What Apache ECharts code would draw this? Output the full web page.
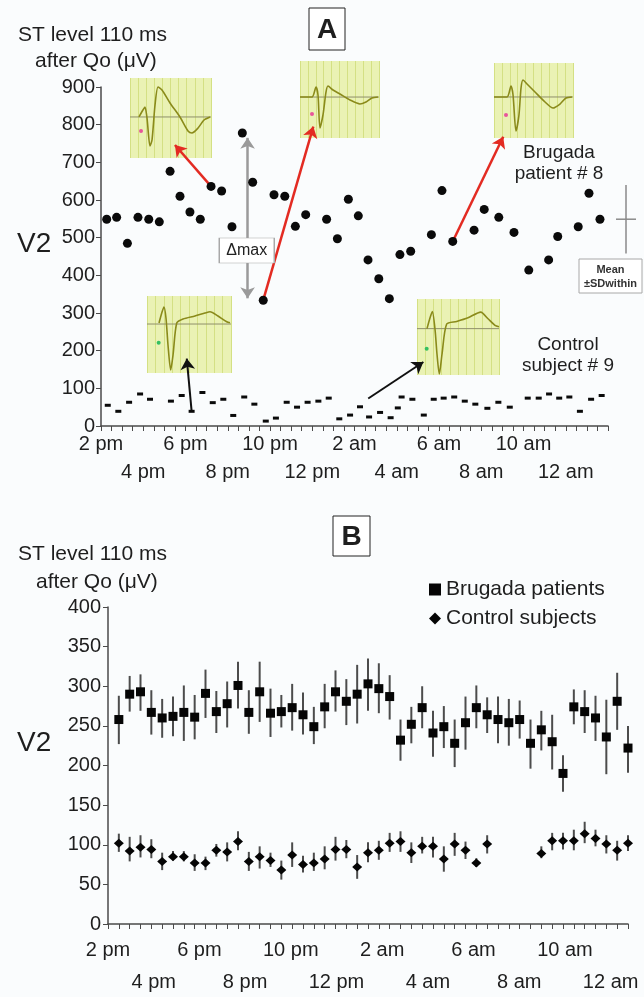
<!DOCTYPE html>
<html>
<head>
<meta charset="utf-8">
<script src="https://cdn.jsdelivr.net/npm/echarts/dist/echarts.min.js"></script>
<style>
html,body{margin:0;padding:0;background:#fafcfd;}
#chart{width:644px;height:997px;}
</style>
</head>
<body>
<div id="chart"></div>
<script>
// ---------- Panel A : Brugada patient #8 (hours after 2 pm, µV) ----------
const aBrugadaHours = [0.27,0.74,1.25,1.75,2.26,2.76,3.27,3.74,4.21,4.70,5.21,5.71,6.20,6.69,7.18,7.68,8.19,8.70,9.20,9.69,10.68,11.19,11.71,12.18,12.64,13.15,13.65,14.15,14.66,15.64,16.14,16.65,17.66,18.14,18.83,19.55,20.25,21.19,21.62,22.59,23.10,23.62];
const aBrugadaValues = [549,554,485,554,549,542,676,610,568,549,636,624,529,778,647,334,614,610,530,561,549,497,602,558,441,391,338,455,464,508,625,490,520,575,554,514,414,441,503,529,618,549];
// ---------- Panel A : Control subject #9 ----------
const aControlHours = [0.32,0.82,1.33,1.85,2.32,3.31,3.82,4.29,4.80,5.29,5.79,6.26,6.78,7.26,7.80,8.28,8.79,9.28,9.78,10.29,10.78,11.28,11.79,12.26,12.69,13.21,13.71,14.05,14.23,14.74,15.28,15.75,16.22,16.72,17.22,17.72,18.29,18.81,19.35,20.20,20.72,21.21,21.69,22.17,22.67,23.20,23.70];
const aControlValues = [55,39,63,85,71,66,81,39,89,62,71,28,77,58,13,21,63,50,63,66,74,19,29,51,24,36,22,48,77,71,29,71,74,77,66,58,47,63,50,74,74,85,74,77,39,71,81];
const sdMean = 549, sdWithin = 91;

// ---------- Panel B : group means ± SD ----------
const bHours = [0.5,1,1.5,2,2.5,3,3.5,4,4.5,5,5.5,6,6.5,7,7.5,8,8.5,9,9.5,10,10.5,11,11.5,12,12.5,13,13.5,14,14.5,15,15.5,16,16.5,17,17.5,18,18.5,19,19.5,20,20.5,21,21.5,22,22.5,23,23.5,24];
const bBrugadaMean = [258,290,293,267,260,262,267,261,291,268,278,301,267,293,266,268,273,264,249,274,293,281,290,303,297,287,232,252,273,241,249,228,254,273,264,258,254,258,228,245,230,190,274,268,260,236,281,222];
const bBrugadaHigh = [288,313,315,295,284,287,301,289,321,294,306,331,295,331,297,289,303,292,274,303,320,309,327,335,329,314,258,274,300,269,275,258,287,301,286,287,284,282,258,269,264,213,296,295,288,283,317,250];
const bBrugadaLow  = [227,268,269,239,235,237,231,233,260,241,248,272,240,255,236,248,244,239,227,247,268,251,253,269,266,258,206,228,247,211,222,198,220,247,241,228,225,234,196,219,195,167,252,241,231,189,245,191];
const bControlMean = [102,92,97,94,79,85,85,77,77,93,91,104,79,85,80,68,87,75,77,82,94,94,72,90,93,102,104,90,98,98,82,101,93,77,101,null,null,null,null,89,105,105,105,114,108,101,93,102];
const bControlHigh = [114,110,112,107,90,92,92,88,85,101,103,117,91,98,90,80,103,86,90,98,110,106,87,103,105,115,117,103,110,110,98,115,104,83,112,null,null,null,null,98,115,115,119,129,119,112,105,112];
const bControlLow  = [91,79,84,83,68,80,79,67,68,85,79,93,67,70,72,56,72,65,67,69,80,83,57,78,81,91,91,77,89,84,66,86,82,72,89,null,null,null,null,83,93,94,93,102,98,89,80,92];

// ---------- tick labels ----------
const hourLabels = ['2 pm','4 pm','6 pm','8 pm','10 pm','12 pm','2 am','4 am','6 am','8 am','10 am','12 am'];

// ---------- ECG thumbnails (local units 0-100) ----------
const inset1X = [11.1,16.0,18.5,21.0,24.7,27.2,30.9,34.6,39.5,49.4,61.7,71.6,76.5,84.0,91.4,98.8];
const inset1Y = [51.3,60,63.8,50,15,22.5,66.3,88.8,85,68.8,51.3,33.8,31.3,37.5,47.5,51.3];
const inset2X = [0,15.2,20.3,22.8,25.3,29.1,32.9,35.4,41.8,50.6,63.3,75.9,83.5,91.1,98.7];
const inset2Y = [53.2,53.2,66.2,55.8,13,29.9,59.7,67.5,62.3,57.1,49.4,44.2,46.8,51.9,53.2];
const inset3X = [0,16.5,21.5,24.1,27.8,31.6,34.2,36.7,41.8,51.9,64.6,74.7,83.5,91.1,98.7];
const inset3Y = [54.7,54.7,69.3,57.3,9.3,30.7,66.7,77.3,72,61.3,48,40,45.3,53.3,54.7];
const inset4X = [14.3,17.9,20.2,22.6,25,28.2,31,35.4,42.9,57.1,69,75,84.5,94.9,98.8];
const inset4Y = [64.9,79.2,85.7,71.4,36.4,3.9,23.4,64.9,70.1,74,77.9,79.6,74,66.6,65.3];
const inset5X = [12.2,15.9,18.7,22,24.4,27.2,30.5,36.2,48.4,62.2,77.7,86.6,95.1,100];
const inset5Y = [61,75.3,83.5,59.7,27.3,1.3,27.3,67.1,70.5,75.3,82.7,74,65.3,63.6];
const insetBaselines = [51.3,53.2,54.7,63.6,61];
const insetDotX = [13.6,15.2,15.2,13.9,11.8];
const insetDotY = [33.8,31.2,30.7,39.4,34.7];

// ---------- build ----------
const FONT = 'Liberation Sans, Arial, Helvetica, sans-serif';
const zip = (xs, ys) => xs.map((x, i) => [x, ys[i]]);
function twoRow(v) {
  const i = Math.round(v / 2);
  if (Math.abs(v - 2 * i) > 1e-6 || i < 0 || i >= hourLabels.length) return '';
  return i % 2 === 0 ? hourLabels[i] : '\n' + hourLabels[i];
}
const axisColor = '#4a4a4a';
const insetGrids = [[130,78,81,80],[300,61,79,77],[494,63,79,75],[147,296,84,77],[417,299,82,76]];
const insetXs = [inset1X, inset2X, inset3X, inset4X, inset5X];
const insetYs = [inset1Y, inset2Y, inset3Y, inset4Y, inset5Y];
const dotColors = ['#e8559a','#e8559a','#e8559a','#35c060','#35c060'];

const grids = [
  {left:101, top:87, width:507, height:339, outerBoundsMode:'none'},
  {left:108, top:607, width:520, height:317, outerBoundsMode:'none'}
];
insetGrids.forEach(g => grids.push({left:g[0], top:g[1], width:g[2], height:g[3], show:true,
  backgroundColor:'#eaf2b4', borderWidth:0, outerBoundsMode:'none'}));
grids.push({left:610, top:87, width:32, height:339, outerBoundsMode:'none'});

const labelStyle = {color:'#1e1e1e', fontSize:20, fontFamily:FONT};
const xAxes = [
  {gridIndex:0, type:'value', min:0, max:24, interval:0.5,
   axisLine:{lineStyle:{color:axisColor, width:1.5}}, axisTick:{length:5, lineStyle:{color:axisColor}},
   splitLine:{show:false},
   axisLabel:Object.assign({}, labelStyle, {margin:4, lineHeight:28, formatter:twoRow, showMinLabel:true, showMaxLabel:true})},
  {gridIndex:1, type:'value', min:0, max:24, interval:0.5,
   axisLine:{lineStyle:{color:axisColor, width:1.5}}, axisTick:{length:5, lineStyle:{color:axisColor}},
   splitLine:{show:false}, axisLabel:{show:false}},
  {gridIndex:1, type:'value', min:0, max:22.76, interval:2, position:'bottom',
   axisLine:{show:false}, axisTick:{show:false}, splitLine:{show:false},
   axisLabel:Object.assign({}, labelStyle, {margin:10, lineHeight:32, formatter:twoRow, showMinLabel:true, showMaxLabel:true})}
];
const yAxes = [
  {gridIndex:0, type:'value', min:0, max:900, interval:100,
   axisLine:{show:true, lineStyle:{color:axisColor, width:1.5}}, axisTick:{show:true, length:5, lineStyle:{color:axisColor}},
   splitLine:{show:false}, axisLabel:Object.assign({}, labelStyle, {margin:6})},
  {gridIndex:1, type:'value', min:0, max:400, interval:50,
   axisLine:{show:true, lineStyle:{color:axisColor, width:1.5}}, axisTick:{show:true, length:5, lineStyle:{color:axisColor}},
   splitLine:{show:false}, axisLabel:Object.assign({}, labelStyle, {margin:7})}
];
insetGrids.forEach((g, i) => {
  xAxes.push({gridIndex:2+i, type:'value', min:0, max:100, interval:10, axisLine:{show:false}, axisTick:{show:false},
    axisLabel:{show:false}, splitLine:{show:true, lineStyle:{color:'#d4e084', width:1}}});
  yAxes.push({gridIndex:2+i, type:'value', min:0, max:100, show:false, splitLine:{show:false}});
});
xAxes.push({gridIndex:7, type:'value', min:0, max:2, show:false});
yAxes.push({gridIndex:7, type:'value', min:0, max:900, show:false});

function arrow(p1, p2, color, width, both) {
  return [
    {coord:p1, symbol: both ? 'arrow' : 'none', symbolSize: 11, lineStyle:{color:color, width:width, type:'solid', opacity:1}},
    {coord:p2, symbol:'arrow', symbolSize: 11}
  ];
}
function errRender(params, api) {
  const x = api.value(0), lo = api.value(1), hi = api.value(2);
  const a = api.coord([x, lo]), b = api.coord([x, hi]);
  return {type:'line', shape:{x1:a[0], y1:a[1], x2:b[0], y2:b[1]}, style:{stroke:'#4c4c4c', lineWidth:2}};
}
const solid = (c) => ({color:c, opacity:1});

const series = [
  {name:'Brugada #8', type:'scatter', xAxisIndex:0, yAxisIndex:0, z:6,
   symbol:'circle', symbolSize:9, itemStyle:solid('#0a0a0a'),
   data: zip(aBrugadaHours, aBrugadaValues),
   markLine:{silent:true, animation:false, label:{show:false}, symbol:['none','arrow'],
     data:[
       arrow([5.21,636],[3.50,746],'#e32b22',2.5,false),
       arrow([7.68,334],[10.05,795],'#e32b22',2.5,false),
       arrow([16.65,490],[19.04,768],'#e32b22',2.5,false),
       arrow([6.94,339],[6.94,765],'#9a9a9a',2.5,true)
     ]}},
  {name:'Control #9', type:'scatter', xAxisIndex:0, yAxisIndex:0, z:6,
   symbol:'rect', symbolSize:[6,3], itemStyle:solid('#0a0a0a'),
   data: zip(aControlHours, aControlValues),
   markLine:{silent:true, animation:false, label:{show:false}, symbol:['none','arrow'],
     data:[
       arrow([4.29,39],[4.06,179],'#111',2,false),
       arrow([12.65,73],[15.26,170],'#111',2,false)
     ]}},
  {name:'dmax', type:'scatter', xAxisIndex:0, yAxisIndex:0, z:10, data:[],
   markPoint:{silent:true, animation:false, data:[
     {coord:[6.90,466], symbol:'rect', symbolSize:[55,25],
      itemStyle:{color:'#ffffff', borderColor:'#a8a8a8', borderWidth:1, opacity:1},
      label:{show:true, position:'inside', formatter:'\u0394max', color:'#222', fontSize:16, fontFamily:FONT}}
   ]}},
  {name:'errB', type:'custom', xAxisIndex:1, yAxisIndex:1, z:3, renderItem:errRender, encode:{x:0, y:[1,2]},
   data: bHours.map((h, i) => [h, bBrugadaLow[i], bBrugadaHigh[i]])},
  {name:'errC', type:'custom', xAxisIndex:1, yAxisIndex:1, z:3, renderItem:errRender, encode:{x:0, y:[1,2]},
   data: bHours.map((h, i) => [h, bControlLow[i], bControlHigh[i]]).filter(d => d[1] !== null)},
  {name:'Brugada patients', type:'scatter', xAxisIndex:1, yAxisIndex:1, z:5,
   symbol:'rect', symbolSize:9, itemStyle:solid('#050505'),
   data: zip(bHours, bBrugadaMean)},
  {name:'Control subjects', type:'scatter', xAxisIndex:1, yAxisIndex:1, z:5,
   symbol:'diamond', symbolSize:[10,9], itemStyle:solid('#050505'),
   data: zip(bHours, bControlMean).filter(d => d[1] !== null)},
  {name:'meanSD', type:'custom', xAxisIndex:8, yAxisIndex:7, z:3,
   renderItem:(params, api) => {
     const m = api.value(1), s = api.value(2);
     const top = api.coord([1, m + s]), bot = api.coord([1, m - s]);
     const l = api.coord([0.375, m]), r = api.coord([1.625, m]);
     return {type:'group', children:[
       {type:'line', shape:{x1:top[0], y1:top[1], x2:bot[0], y2:bot[1]}, style:{stroke:'#8a8a8a', lineWidth:1.5}},
       {type:'line', shape:{x1:l[0], y1:l[1], x2:r[0], y2:r[1]}, style:{stroke:'#8a8a8a', lineWidth:1.5}}
     ]};
   },
   data:[[1, sdMean, sdWithin]]}
];
insetXs.forEach((xs, i) => {
  series.push({type:'line', xAxisIndex:3+i, yAxisIndex:2+i, z:2, silent:true, showSymbol:false, symbol:'none',
    lineStyle:{color:'#8f8f6a', width:1}, data:[[0, insetBaselines[i]], [100, insetBaselines[i]]]});
  series.push({type:'line', xAxisIndex:3+i, yAxisIndex:2+i, z:3, silent:true, showSymbol:false, symbol:'none', smooth:0.25,
    lineStyle:{color:'#8a8a1a', width:1.6}, data: zip(xs, insetYs[i])});
  series.push({type:'scatter', xAxisIndex:3+i, yAxisIndex:2+i, z:3, silent:true, symbolSize:4,
    itemStyle:solid(dotColors[i]), data:[[insetDotX[i], insetDotY[i]]]});
});

function txt(x, y, text, size, opts) {
  return Object.assign({type:'text', x:x, y:y, silent:true, style:Object.assign({
    text:text, fill:'#1e1e1e', font: size + 'px ' + FONT, align:'left', textAlign:'left',
    verticalAlign:'middle', textVerticalAlign:'middle'}, opts || {})});
}
const centered = {align:'center', textAlign:'center'};
const graphic = [
  {type:'rect', silent:true, shape:{x:309, y:8, width:36, height:42}, style:{fill:'#fff', stroke:'#222', lineWidth:1}},
  txt(327, 30, 'A', 28, Object.assign({font:'bold 28px ' + FONT}, centered)),
  {type:'rect', silent:true, shape:{x:333, y:516, width:37, height:40}, style:{fill:'#fff', stroke:'#222', lineWidth:1}},
  txt(351.5, 537, 'B', 28, Object.assign({font:'bold 28px ' + FONT}, centered)),
  txt(18, 35, 'ST level 110 ms', 21),
  txt(35, 61, 'after Qo (\u03bcV)', 21),
  txt(18, 554, 'ST level 110 ms', 21),
  txt(36, 582, 'after Qo (\u03bcV)', 21),
  txt(17, 244, 'V2', 28),
  txt(17, 743, 'V2', 28),
  txt(559, 153, 'Brugada', 19, centered),
  txt(559, 174, 'patient # 8', 19, centered),
  txt(568, 345, 'Control', 19, centered),
  txt(568, 366, 'subject # 9', 19, centered),
  {type:'rect', silent:true, shape:{x:579, y:259, width:63, height:34}, style:{fill:'#fff', stroke:'#a8a8a8', lineWidth:1}},
  txt(610.5, 269.5, 'Mean', 11, Object.assign({font:'bold 11px ' + FONT, fill:'#333'}, centered)),
  txt(610.5, 283.5, '\u00b1SDwithin', 11, Object.assign({font:'bold 11px ' + FONT, fill:'#333'}, centered))
];

const chart = echarts.init(document.getElementById('chart'), null, {renderer:'canvas'});
chart.setOption({
  animation:false,
  backgroundColor:'#fafcfd',
  textStyle:{fontFamily:FONT},
  grid:grids,
  xAxis:xAxes,
  yAxis:yAxes,
  legend:{data:['Brugada patients','Control subjects'], orient:'vertical', left:424, top:574,
    itemGap:8, itemWidth:12, itemHeight:12, selectedMode:false,
    itemStyle:{opacity:1},
    textStyle:{fontSize:21, color:'#1e1e1e', fontFamily:FONT, lineHeight:20}},
  series:series,
  graphic:graphic
});
</script>
</body>
</html>
